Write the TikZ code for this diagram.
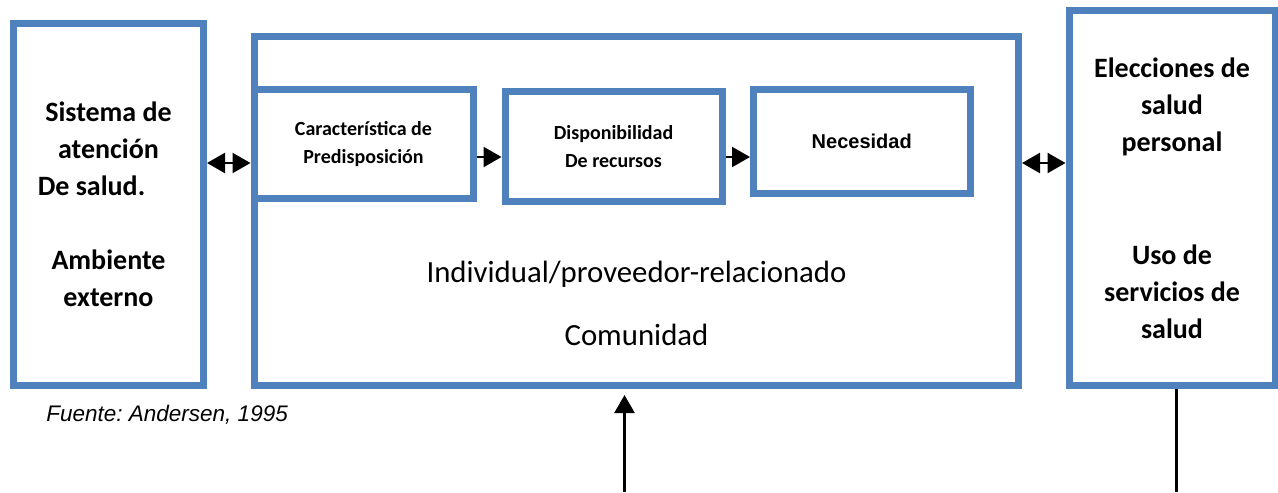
\documentclass[tikz,border=0pt]{standalone}
\usepackage{fontspec}
\setmainfont{Carlito}
\newfontfamily\arialfont{Liberation Sans}
\usetikzlibrary{arrows.meta}
\definecolor{boxblue}{RGB}{79,129,189}

\begin{document}
\begin{tikzpicture}[x=0.5pt, y=-0.5pt,
        box/.style={draw=boxblue, line width=3.5pt, inner sep=0pt, align=center},
        big/.style={font=\bfseries\fontsize{14}{18.5}\selectfont},
        small/.style={font=\bfseries\fontsize{10}{14}\selectfont},
        arr/.style={line width=1.2pt, -{Triangle[length=9pt, width=10pt]}},
        dbl/.style={line width=1.2pt, {Triangle[length=9pt, width=10pt]}-{Triangle[length=9pt, width=10pt]}}]
        \useasboundingbox (0,0) rectangle (1278,492);

        \node[box, big, minimum width=95pt, minimum height=181pt] (ext) at (108.5,204.5) {Sistema de\\ atención\\ De salud.\hspace*{17pt}\mbox{}\\[18.5pt] Ambiente\\ externo};
        \node[box, minimum width=382.25pt, minimum height=174.25pt] (ind) at (636.25,211.25) {};
        \node[box, small, minimum width=109.5pt, minimum height=54pt] (pred) at (363.5,144) {Característica de\\ Predisposición};
        \node[box, small, minimum width=108.5pt, minimum height=54.5pt] (recur) at (613.5,146.5) {Disponibilidad\\ De recursos};
        \node[box, minimum width=108.25pt, minimum height=51.5pt, font=\arialfont\bfseries\fontsize{10}{12}\selectfont] (nec) at (861.75,141.5) {Necesidad};
        \node[box, big, minimum width=103pt, minimum height=187pt] (sal) at (1172,198) {Elecciones de\\ salud\\ personal\\[38pt] Uso de\\ servicios de\\ salud};

        \node[align=center, font=\fontsize{15.4}{31.5}\selectfont] (ctx) at (636.5,303.5) {Individual/proveedor-relacionado\\ Comunidad};
        \node[anchor=west, inner sep=0pt, font=\arialfont\itshape\fontsize{11.25}{13}\selectfont\frenchspacing] (src) at (46,415) {Fuente: Andersen, 1995};

        \draw[dbl] (ext.east |- 0,163) -- (ind.west |- 0,163);
        \draw[arr] (pred.east |- 0,157) -- (recur.west |- 0,157);
        \draw[arr] (recur.east |- 0,157) -- (nec.west |- 0,157);
        \draw[dbl] (ind.east |- 0,163) -- (sal.west |- 0,163);

        \coordinate (ent) at (624.5,492);
        \coordinate (out) at (1176.5,492);
        \draw[arr] (ent) -- ([yshift=-3pt]ind.south -| ent);
        \draw[line width=1.2pt] (sal.south -| out) -- (out);
    \end{tikzpicture}
\end{document}
